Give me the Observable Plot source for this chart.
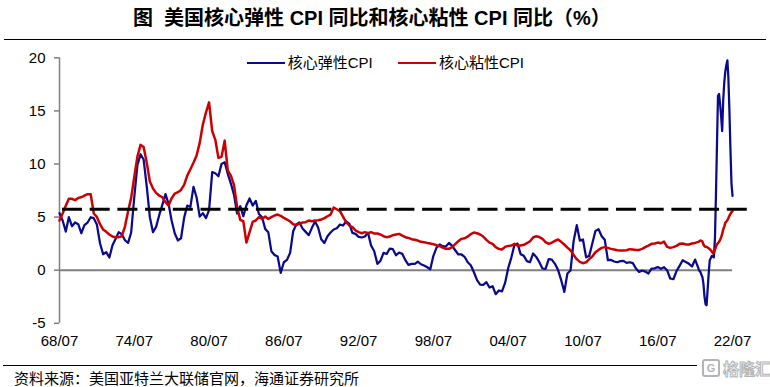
<!DOCTYPE html>
<html>
<head>
<meta charset="utf-8">
<script src="https://cdn.jsdelivr.net/npm/d3@7"></script>
<script src="https://cdn.jsdelivr.net/npm/@observablehq/plot@0.6"></script>
<style>
  body { margin: 0; background: #fff; }
  #wrap { position: relative; width: 770px; height: 387px; overflow: hidden; font-family: "Liberation Sans", "Noto Sans CJK SC", sans-serif; color: #000; }
  #chart { position: absolute; left: 0; top: 0; }
  #title { position: absolute; left: 133px; top: 6px; text-align: left; font-weight: bold; font-size: 20px; line-height: 24px; white-space: pre; }
  #topline { position: absolute; left: 4px; top: 39px; width: 762px; height: 0; border-top: 1px solid #000; }
  .leg { position: absolute; top: 53.7px; height: 18px; display: flex; align-items: center; font-size: 15px; line-height: 18px; white-space: nowrap; }
  .sw { display: inline-block; width: 38px; height: 0; border-top: 2.5px solid; margin-right: 3px; }
  #footline { position: absolute; left: 3px; top: 365px; width: 694px; height: 0; border-top: 1px solid #000; }
  #source { position: absolute; left: 14px; top: 369px; font-size: 15px; line-height: 18px; font-family: "Noto Sans CJK SC", sans-serif; white-space: nowrap; }
  #mark { position: absolute; left: 702px; top: 356px; height: 24px; display: flex; align-items: center; font-family: "Noto Sans CJK SC", sans-serif; font-size: 16px; line-height: 20px; font-weight: bold; color: #fff; -webkit-text-stroke: 1px #b4b4b4; white-space: nowrap; }
  #mark .g { display: inline-block; width: 14px; height: 14px; border: 2px solid #b4b4b4; border-radius: 3px; margin-right: 3px; font-size: 11px; line-height: 14px; text-align: center; -webkit-text-stroke: 0; color: #b4b4b4; font-family: "Liberation Sans", sans-serif; }
</style>
</head>
<body>
<div id="wrap">
  <div id="chart"></div>
  <div id="title">图  美国核心弹性 CPI 同比和核心粘性 CPI 同比（%）</div>
  <div id="topline"></div>
  <div class="leg" style="left:246.7px"><span class="sw" style="border-color:#0a0a8c"></span>核心弹性CPI</div>
  <div class="leg" style="left:398px"><span class="sw" style="border-color:#cc0000"></span>核心粘性CPI</div>
  <div id="footline"></div>
  <div id="source">资料来源：美国亚特兰大联储官网，海通证券研究所</div>
  <div id="mark"><span class="g">G</span>格隆汇</div>
</div>
<script>
// ---- data ----
const tickLabels = ["68/07", "74/07", "80/07", "86/07", "92/07", "98/07", "04/07", "10/07", "16/07", "22/07"];
const yTicks = [-5, 0, 5, 10, 15, 20];
const dashLevel = 5.75;

// quarterly 1968-07 .. 2019-10, then monthly 2019-11 .. 2022-07
const flexibleCPI = [
  5.37, 4.68, 3.64, 4.99, 4.14, 4.49, 4.33, 3.48, 4.24, 4.49,
  4.99, 4.9, 4.3, 2.54, 1.5, 1.7, 1.19, 2.35, 2.95, 3.58,
  3.39, 2.82, 2.57, 3.55, 6.87, 9.89, 10.92, 10.42, 7.91, 4.99,
  3.58, 4.08, 5.18, 6.15, 7.16, 6.25, 4.65, 3.45, 2.8, 3.01,
  4.93, 6.09, 5.96, 7.85, 6.87, 5.05, 5.37, 4.9, 5.65, 9.23,
  9.13, 8.85, 10.01, 10.17, 9.07, 8.16, 7.12, 5.34, 6.03, 5.08,
  6.12, 6.75, 6.09, 6.53, 5.3, 4.99, 3.89, 3.58, 1.79, 1.44,
  1.29, -0.25, 0.75, 0.97, 1.63, 3.67, 4.3, 4.5, 3.92, 3.61,
  3.3, 3.99, 4.58, 4.02, 2.92, 2.57, 3.2, 3.55, 3.83, 3.95,
  4.3, 4.21, 4.58, 4.39, 3.52, 3.42, 3.14, 3.08, 3.17, 3.52,
  2.32, 1.79, 0.6, 0.88, 1.63, 1.54, 2.04, 1.98, 1.41, 1.66,
  1.54, 0.94, 0.5, 0.6, 0.6, 0.8, 0.56, 0.44, 0.28, 0.09,
  1.35, 2.13, 2.42, 2.26, 2.23, 2.57, 2.29, 1.88, 1.48, 1.48,
  1.26, 0.75, 0.47, -0.19, -0.94, -1.35, -1.38, -1.13, -1.63, -1.51,
  -2.26, -1.91, -2.0, -1.2, 0.19, 1.19, 2.39, 2.5, 1.51, 1.35,
  0.85, 0.75, 1.57, 1.25, 0.75, 0.16, 0.13, 1.04, 1.0, 0.6,
  0.03, -0.94, -2.04, -0.31, -0.03, 2.76, 4.24, 2.79, 2.89, 1.22,
  1.35, 2.51, 3.7, 3.86, 3.2, 2.86, 0.94, 0.97, 0.82, 0.75,
  0.85, 0.88, 0.69, 0.75, 0.66, 0.16, -0.16, -0.03, -0.13, -0.31,
  0.15, 0.17, 0.3, 0.13, 0.28, 0, -0.78, -0.85, -0.09, 0.41,
  0.94, 0.78, 0.6, 0.35, 1.0, 0.22,
  -0.06, -0.16, -0.41, -0.66, -1.29, -2.48, -3.2, -3.3, -1.85, -0.35,
  0.94, 1.13, 1.35, 1.29, 1.22, 3.0, 6.87, 11.74, 16.4, 16.6,
  15.66, 14.5, 13.1, 15.98, 17.67, 18.7, 19.33, 19.75, 18.14, 15.03,
  11.39, 8.13, 7.0
];
const stickyCPI = [
  4.68, 5.34, 6.06, 6.72, 6.72, 6.59, 6.81, 6.87, 7.03, 7.16,
  7.16, 5.34, 5.02, 4.33, 3.83, 3.61, 3.36, 3.17, 3.11, 3.11,
  3.2, 4.11, 5.56, 6.81, 8.76, 10.7, 11.8, 11.6, 10.14, 8.35,
  7.69, 7.28, 7.03, 6.87, 6.4, 6.09, 6.78, 7.22, 7.35, 7.56,
  8.04, 8.91, 9.51, 10.11, 10.8, 11.99, 13.72, 14.85, 15.8, 13.09,
  12.27, 10.58, 10.67, 12.2, 9.38, 8.91, 8.04, 5.96, 4.74, 4.61,
  2.6, 3.58, 4.55, 4.68, 4.99, 4.83, 5.05, 4.83, 4.99, 5.15,
  5.24, 5.12, 4.93, 4.77, 4.58, 4.33, 4.24, 4.39, 4.49, 4.52,
  4.68, 4.61, 4.68, 4.71, 4.77, 4.9, 5.08, 5.24, 5.9, 5.74,
  5.56, 5.05, 4.52, 4.21, 4.05, 3.74, 3.58, 3.48, 3.58, 3.48,
  3.58, 3.45, 3.45, 3.36, 3.2, 3.11, 3.17, 3.3, 3.36, 3.42,
  3.26, 3.11, 3.04, 2.92, 2.86, 2.79, 2.67, 2.64, 2.57, 2.51,
  2.45, 2.35, 2.26, 2.13, 2.01, 2.01, 2.17, 2.45, 2.73, 2.95,
  3.01, 3.17, 3.39, 3.55, 3.48, 3.36, 3.17, 2.86, 2.6, 2.48,
  2.17, 2.01, 1.95, 2.2, 2.29, 2.32, 2.48, 2.32, 2.32, 2.39,
  2.54, 2.73, 3.08, 3.2, 3.12, 2.95, 2.64, 2.48, 2.6, 2.76,
  2.89, 2.67, 2.42, 2.13, 1.88, 1.44, 1.04, 0.78, 0.66, 0.75,
  1.04, 1.29, 1.69, 1.91, 2.1, 2.17, 2.1, 2.01, 1.95, 1.88,
  1.85, 1.85, 1.88, 1.98, 1.95, 1.91, 1.91, 2.01, 2.17, 2.32,
  2.48, 2.52, 2.6, 2.54, 2.7, 2.2, 2.1, 2.17, 2.29, 2.48,
  2.51, 2.42, 2.42, 2.51, 2.57, 2.67,
  2.73, 2.79, 2.76, 2.7, 2.42, 2.26, 2.2, 2.2, 2.13, 2.07,
  1.98, 1.88, 1.76, 1.6, 1.63, 1.95, 2.17, 2.45, 2.54, 2.67,
  2.86, 3.08, 3.42, 3.83, 4.11, 4.46, 4.58, 4.71, 4.9, 5.12,
  5.3, 5.46, 5.56
];

// ---- dates ----
const start = new Date(Date.UTC(1968, 6, 1));
const monthlyFrom = new Date(Date.UTC(2019, 10, 1));
const last = new Date(Date.UTC(2022, 6, 1));
const axisEnd = new Date(Date.UTC(2023, 8, 13));
const dates = [
  ...d3.utcMonth.range(start, monthlyFrom, 3),
  ...d3.utcMonth.range(monthlyFrom, d3.utcMonth.offset(last, 1))
];
if (dates.length !== flexibleCPI.length || dates.length !== stickyCPI.length) {
  throw new Error(`length mismatch: dates ${dates.length}, flexible ${flexibleCPI.length}, sticky ${stickyCPI.length}`);
}
const rows = dates.map((d, i) => ({date: d, flexible: flexibleCPI[i], sticky: stickyCPI[i]}));

const tickDates = tickLabels.map(s => {
  const [yy, mm] = s.split("/").map(Number);
  return new Date(Date.UTC(yy < 50 ? 2000 + yy : 1900 + yy, mm - 1, 1));
});
const labelOf = new Map(tickDates.map((d, i) => [+d, tickLabels[i]]));

const chart = Plot.plot({
  width: 770,
  height: 387,
  marginLeft: 59,
  marginRight: 23,
  marginTop: 57.3,
  marginBottom: 64.2,
  x: {type: "utc", domain: [start, axisEnd]},
  y: {domain: [-5, 20]},
  style: {fontFamily: "'Liberation Sans', Arial, sans-serif", fontSize: "15px", color: "#000", background: "transparent"},
  marks: [
    Plot.ruleY([0], {x1: start, x2: last, stroke: "#808080", strokeWidth: 2}),
    Plot.ruleX([start], {y1: -5, y2: 20, stroke: "#808080", strokeWidth: 1.5}),
    Plot.axisY({ticks: yTicks, tickSize: 5, tickPadding: 9, stroke: "#808080", strokeWidth: 1.5, fill: "#000", fontSize: 15, tickFormat: d => String(d)}),
    Plot.axisX({ticks: tickDates, tickSize: 0, tickPadding: 12, fill: "#000", fontSize: 15, tickFormat: d => labelOf.get(+d)}),
    Plot.lineY(rows, {x: "date", y: "flexible", stroke: "#0a0a8c", strokeWidth: 2.25, strokeLinejoin: "round"}),
    Plot.lineY(rows, {x: "date", y: "sticky", stroke: "#cc0000", strokeWidth: 2.5, strokeLinejoin: "round"}),
    Plot.ruleY([dashLevel], {x1: start, x2: axisEnd, stroke: "#000", strokeWidth: 3, strokeDasharray: "20,7.7", strokeDashoffset: 24.7})
  ]
});
document.getElementById("chart").appendChild(chart);
</script>
</body>
</html>
